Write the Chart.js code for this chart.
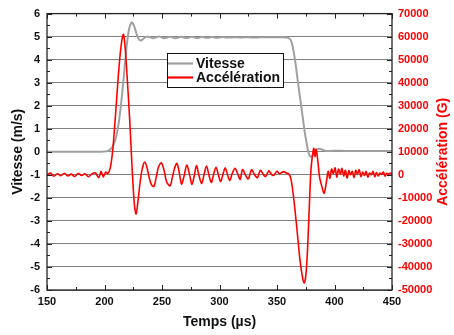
<!DOCTYPE html>
<html>
<head>
<meta charset="utf-8">
<script src="https://cdn.jsdelivr.net/npm/chart.js@4/dist/chart.umd.min.js"></script>
<style>
  body { margin: 0; background: #fff; }
  canvas { display: block; }
</style>
</head>
<body>
<canvas id="myChart" width="454" height="335"></canvas>
<script>
// velocity (m/s)
const velTime = [150, 170, 190, 200, 203, 205, 207, 209, 211, 212.5, 214, 215.5, 217, 218.5, 220, 221.5, 223, 224, 225, 226.5, 228, 229.5, 231, 232.5, 234, 236, 238,
  240, 242, 244, 246, 248, 250, 252, 254, 256, 258, 260, 262, 264, 266, 268, 270, 272, 274, 276, 278, 280, 282, 284, 286, 288, 290, 292, 294, 296, 298, 300,
  303, 306, 309, 312, 315, 318, 322, 326, 330, 335, 340, 345, 350, 355, 358, 360, 362, 363.5, 365, 366.5, 368, 369.5, 371, 372.5, 374, 375.5, 377, 378.5, 380,
  381.5, 383, 385, 387, 389, 391, 394, 397, 400, 410, 420, 430, 440, 450];
const velValues = [0, 0, 0, 0.01, 0.04, 0.1, 0.22, 0.45, 0.85, 1.3, 1.9, 2.6, 3.4, 4.2, 4.9, 5.35, 5.58, 5.62, 5.55, 5.35, 5.1, 4.92, 4.84, 4.85, 4.92, 4.99, 5.0,
  4.97, 4.93, 4.95, 4.99, 5.0, 4.96, 4.93, 4.95, 4.99, 4.99, 4.95, 4.93, 4.96, 4.99, 4.98, 4.95, 4.94, 4.97, 4.99, 4.97, 4.94, 4.95, 4.98, 4.98, 4.95, 4.95, 4.97, 4.98, 4.96, 4.95, 4.96,
  4.98, 4.96, 4.96, 4.97, 4.97, 4.96, 4.97, 4.97, 4.96, 4.97, 4.97, 4.97, 4.97, 4.97, 4.96, 4.94, 4.85, 4.6, 4.2, 3.7, 3.1, 2.55, 2.0, 1.45, 0.9, 0.45, 0.05, -0.18, -0.22,
  -0.1, 0.05, 0.12, 0.13, 0.1, 0.06, 0.03, 0.04, 0.05, 0.04, 0.04, 0.04, 0.04, 0.04];

// acceleration (G)
const accTime = [150, 153, 156, 159, 162, 165, 168, 171, 174, 177, 180, 183, 186, 189, 192, 195, 197, 199, 201, 203, 205, 207, 209, 211, 213, 215, 216.5, 218, 220, 222, 224, 226, 227.5, 229, 231, 233, 235, 237, 239,
  241, 243, 245, 247, 249.5, 252, 254, 257, 259, 261, 263, 265, 267, 269, 271.5, 274, 276, 278, 280, 282, 284.5, 286.5, 288.7, 291, 293, 295, 297, 299, 301, 303, 305, 307, 309, 311, 313.5, 316, 318,
  320, 322.5, 325, 328, 330.5, 333, 335.5, 338, 340, 343, 345, 347, 350, 352, 354, 356, 358, 360, 362, 364, 366, 368, 370, 372, 373.5, 375, 376.5, 378, 379.5, 381, 382, 383, 384, 385.5, 387,
  389, 391, 393, 394.5, 396, 397.5, 399, 400.5, 402, 403.5, 405, 406.5, 408, 409.5, 411, 412.5, 414, 415.5, 417, 418.5, 420, 421.5, 423, 424.5, 426, 427.5, 429, 430.5, 432, 433.5, 435, 436.5,
  438, 439.5, 441, 442.5, 444, 445.5, 447, 448.5, 450];
const accValues = [0, 800, -600, 500, -400, 700, -500, 300, -700, 600, -300, 500, -800, 400, 900, -1200, 1500, -900, 1200, 500, 3000, 10000, 22000, 36000, 49000, 58000, 61000, 55000, 40000, 23000, 3000, -13000, -17000, -12000, -3000, 3000, 5500, 3000, -1500,
  -4500, -5000, -1000, 3500, 5200, 1500, -3000, -4800, -1000, 3000, 5000, 1000, -4000, -1000, 4200, 0, -4200, -500, 4000, 0, -3800, 0, 3800, -500, -3300, 500, 3300, 0, -3000, 200, 3000, 0, -2500, 500, 2800, 200, -2000,
  2300, 0, -1800, 2200, 0, -1200, 2000, 200, -800, 1800, 300, -300, 1600, 500, 1000, 1400, 800, 500, -1500, -8000, -17000, -27000, -37000, -44000, -47000, -44000, -33000, -15000, 2000, 9000, 11500, 8000, 11000, 6000, -1000,
  -5000, -8000, -3000, 1500, -1500, 2500, 500, 3000, -1000, 2500, 200, 2800, -500, 2000, -1500, 1800, 0, 1500, -1200, 2000, 200, 2200, -800, 1200, -300, 1500, -1000, 800, 0, 1500, -800, 1000,
  -500, 800, 200, 1200, -600, 700, 300, 800, 500];

const xTicks = { min: 150, max: 450, major: 50, minor: 25 };
const velTicks = { min: -6, max: 6, major: 1, minor: 0.5 };
const accTicks = { min: -50000, max: 70000, major: 10000, minor: 5000 };

const FONT = "'Liberation Sans', Arial, sans-serif";
const RED = '#ff0000';

const velPoints = velTime.map((t, i) => ({ x: t, y: velValues[i] }));
const accPoints = accTime.map((t, i) => ({ x: t, y: accValues[i] }));

// inward ticks, frame, right title and the boxed legend
const decorations = {
  id: 'decorations',
  afterDraw(chart) {
    const ctx = chart.ctx;
    const a = chart.chartArea;
    const sx = chart.scales.x, sy = chart.scales.y, sy2 = chart.scales.y2;
    ctx.save();
    ctx.strokeStyle = '#222';
    ctx.lineWidth = 1;
    for (let t = xTicks.min; t <= xTicks.max; t += xTicks.minor) {
      const px = Math.round(sx.getPixelForValue(t)) + 0.5;
      const len = t % xTicks.major === 0 ? 5 : 3;
      ctx.beginPath();
      ctx.moveTo(px, a.bottom); ctx.lineTo(px, a.bottom - len);
      ctx.moveTo(px, a.top); ctx.lineTo(px, a.top + len);
      ctx.stroke();
    }
    for (let v = velTicks.min; v <= velTicks.max; v += velTicks.minor) {
      const py = Math.round(sy.getPixelForValue(v)) + 0.5;
      const len = Number.isInteger(v) ? 5 : 3;
      ctx.beginPath();
      ctx.moveTo(a.left, py); ctx.lineTo(a.left + len, py);
      ctx.stroke();
    }
    for (let g = accTicks.min; g <= accTicks.max; g += accTicks.minor) {
      const py = Math.round(sy2.getPixelForValue(g)) + 0.5;
      const len = g % accTicks.major === 0 ? 5 : 3;
      ctx.beginPath();
      ctx.moveTo(a.right, py); ctx.lineTo(a.right - len, py);
      ctx.stroke();
    }
    ctx.lineWidth = 1.3;
    ctx.strokeRect(a.left, a.top, a.right - a.left, a.bottom - a.top);

    // right axis title, reading bottom to top
    ctx.save();
    ctx.translate(443, (a.top + a.bottom) / 2);
    ctx.rotate(-Math.PI / 2);
    ctx.fillStyle = RED;
    ctx.font = 'bold 14px ' + FONT;
    ctx.textAlign = 'center';
    ctx.textBaseline = 'middle';
    ctx.fillText('Accélération (G)', 0, 0);
    ctx.restore();

    // legend
    ctx.fillStyle = '#fff';
    ctx.fillRect(167, 53, 116, 34);
    ctx.lineWidth = 1;
    ctx.strokeStyle = '#111';
    ctx.strokeRect(167.5, 53.5, 116, 34);
    ctx.lineWidth = 2.2;
    ctx.strokeStyle = '#a0a0a0';
    ctx.beginPath(); ctx.moveTo(168, 63.5); ctx.lineTo(193, 63.5); ctx.stroke();
    ctx.strokeStyle = RED;
    ctx.beginPath(); ctx.moveTo(168, 77.5); ctx.lineTo(193, 77.5); ctx.stroke();
    ctx.fillStyle = '#111';
    ctx.font = 'bold 14px ' + FONT;
    ctx.textAlign = 'left';
    ctx.textBaseline = 'middle';
    ctx.fillText('Vitesse', 196, 64);
    ctx.fillText('Accélération', 196, 78);
    ctx.restore();
  },
};

const ctx = document.getElementById('myChart');
new Chart(ctx, {
  type: 'line',
  data: {
    datasets: [
      {
        label: 'Vitesse',
        data: velPoints,
        yAxisID: 'y',
        borderColor: '#a0a0a0',
        borderWidth: 2,
        pointRadius: 0,
        tension: 0.3,
        order: 1,
      },
      {
        label: 'Accélération',
        data: accPoints,
        yAxisID: 'y2',
        borderColor: RED,
        borderWidth: 1.6,
        pointRadius: 0,
        tension: 0.3,
        order: 0,
      },
    ],
  },
  options: {
    responsive: false,
    animation: false,
    layout: { padding: { top: 12, left: 0, right: 0, bottom: 0 } },
    plugins: { legend: { display: false }, tooltip: { enabled: false } },
    scales: {
      x: {
        type: 'linear',
        min: xTicks.min,
        max: xTicks.max,
        afterFit: (s) => { s.height = 45; },
        grid: { display: false, drawTicks: false },
        border: { display: false },
        ticks: { stepSize: xTicks.major, padding: 5, color: '#111', font: { family: FONT, size: 11, weight: 'bold' } },
        title: { display: true, text: 'Temps (µs)', color: '#111', padding: { top: 0, bottom: 4 }, font: { family: FONT, size: 14, weight: 'bold' } },
      },
      y: {
        position: 'left',
        min: velTicks.min,
        max: velTicks.max,
        afterFit: (s) => { s.width = 47; },
        grid: { color: '#808080', lineWidth: 1, drawTicks: false },
        border: { display: false },
        ticks: { stepSize: velTicks.major, padding: 7, color: '#111', font: { family: FONT, size: 11, weight: 'bold' } },
        title: { display: true, text: 'Vitesse (m/s)', color: '#111', padding: { top: 10, bottom: 0 }, font: { family: FONT, size: 14, weight: 'bold' } },
      },
      y2: {
        position: 'right',
        min: accTicks.min,
        max: accTicks.max,
        afterFit: (s) => { s.width = 62; },
        grid: { drawOnChartArea: false, drawTicks: false },
        border: { display: false },
        ticks: {
          stepSize: accTicks.major,
          padding: 6,
          color: RED,
          font: { family: FONT, size: 11, weight: 'bold' },
          callback: (value) => String(value),
        },
      },
    },
  },
  plugins: [decorations],
});
</script>
</body>
</html>
